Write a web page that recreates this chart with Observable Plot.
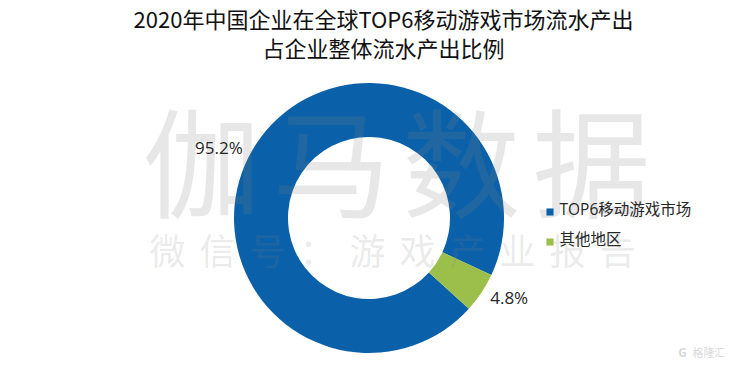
<!DOCTYPE html>
<html>
<head>
<meta charset="utf-8">
<script src="https://cdn.jsdelivr.net/npm/d3@7"></script>
<script src="https://cdn.jsdelivr.net/npm/@observablehq/plot@0.6"></script>
<style>
  html, body { margin: 0; padding: 0; background: #fff; }
  #chart svg { display: block; }
</style>
</head>
<body>
<div id="chart"></div>
<script>
// ---- data ----
const categories = ["TOP6移动游戏市场", "其他地区"];
const shares = [95.2, 4.8];
const shareLabels = ["95.2%", "4.8%"];
const colors = ["#0B61A9", "#9BBF4A"];
const titleLines = ["2020年中国企业在全球TOP6移动游戏市场流水产出", "占企业整体流水产出比例"];
const watermarkMain = ["伽马数据"];
const watermarkSub = ["微信号：游戏产业报告"];
const sourceMark = ["格隆汇"];

// ---- layout ----
const W = 750, H = 366;
const CX = 369, CY = 218, R_OUT = 135, R_IN = 81;
const START = 132.3 * Math.PI / 180;
const FONT = "'Open Sans', 'Noto Sans CJK SC', sans-serif";
const CJK = "'Noto Sans CJK SC', sans-serif";
const LABEL_R = 145;
const labelNudge = [[-6, 10], [0, 0]];

const rows = categories.map((c, i) => ({category: c, share: shares[i], label: shareLabels[i], color: colors[i]}));
const pie = d3.pie().sort(null).value(d => d.share).startAngle(START).endAngle(START + 2 * Math.PI);
const arcs = pie(rows);
const labelRows = arcs.map((a, i) => {
  const m = (a.startAngle + a.endAngle) / 2;
  const s = Math.sin(m);
  return {
    label: a.data.label,
    x: CX + LABEL_R * s + labelNudge[i][0],
    y: CY - LABEL_R * Math.cos(m) + labelNudge[i][1],
    anchor: s < 0 ? "end" : "start"
  };
});

const donut = (index, scales) => {
  const sx = scales && scales.x ? scales.x : v => v;
  const sy = scales && scales.y ? scales.y : v => v;
  const g = d3.create("svg:g").attr("transform", `translate(${sx(CX)},${sy(CY)})`);
  const arc = d3.arc().innerRadius(R_IN).outerRadius(R_OUT);
  g.selectAll("path").data(arcs).join("path")
    .attr("d", arc)
    .attr("fill", d => d.data.color);
  return g.node();
};

const labelMark = anchor => Plot.text(labelRows, {filter: d => d.anchor === anchor, x: "x", y: "y", text: "label",
  fontSize: 17, fontFamily: FONT, fill: "#262626", textAnchor: anchor, lineAnchor: "middle"});

const plot = Plot.plot({
  width: W,
  height: H,
  margin: 0,
  x: {domain: [0, W], range: [0, W], axis: null},
  y: {domain: [0, H], range: [0, H], axis: null},
  style: {background: "#fff"},
  marks: [
    donut,
    // watermark
    Plot.text(watermarkMain, {x: () => 402, y: () => 208, text: d => d, fontSize: 118, fontFamily: CJK,
      fill: "#808080", fillOpacity: 0.19, textAnchor: "middle", lineAnchor: "bottom"}),
    Plot.text(watermarkSub, {x: () => 399, y: () => 264, text: d => d, fontSize: 36, fontFamily: CJK,
      fill: "#808080", fillOpacity: 0.17, textAnchor: "middle", lineAnchor: "bottom"}),
    // title
    Plot.text(titleLines, {x: () => 383, y: (d, i) => 20 + i * 29, text: d => d, fontSize: 22, fontFamily: CJK,
      fill: "#111", textAnchor: "middle", lineAnchor: "middle"}),
    // slice labels
    labelMark("end"),
    labelMark("start"),
    // legend
    Plot.dot(rows, {x: () => 549.5, y: (d, i) => 211.5 + i * 30, fill: "color", stroke: null, symbol: "square", r: 4}),
    Plot.text(rows, {x: () => 559, y: (d, i) => 210 + i * 30, text: "category", fontSize: 15.5, fontFamily: FONT,
      fill: "#262626", textAnchor: "start", lineAnchor: "middle"}),
    // source mark
    Plot.text(sourceMark, {x: () => 692, y: () => 353, text: d => d, fontSize: 11, fontFamily: CJK,
      fill: "#d9d9d9", textAnchor: "start", lineAnchor: "middle"}),
    Plot.text(["G"], {x: () => 682, y: () => 353, text: d => d, fontSize: 12, fontWeight: "bold", fontFamily: FONT,
      fill: "#d9d9d9", textAnchor: "middle", lineAnchor: "middle"})
  ]
});
const spacing = {[watermarkMain[0]]: "12px", [watermarkSub[0]]: "14px"};
d3.select(plot).selectAll("text").each(function() {
  const t = this.textContent;
  if (spacing[t]) this.setAttribute("letter-spacing", spacing[t]);
});
document.getElementById("chart").appendChild(plot);
</script>
</body>
</html>
